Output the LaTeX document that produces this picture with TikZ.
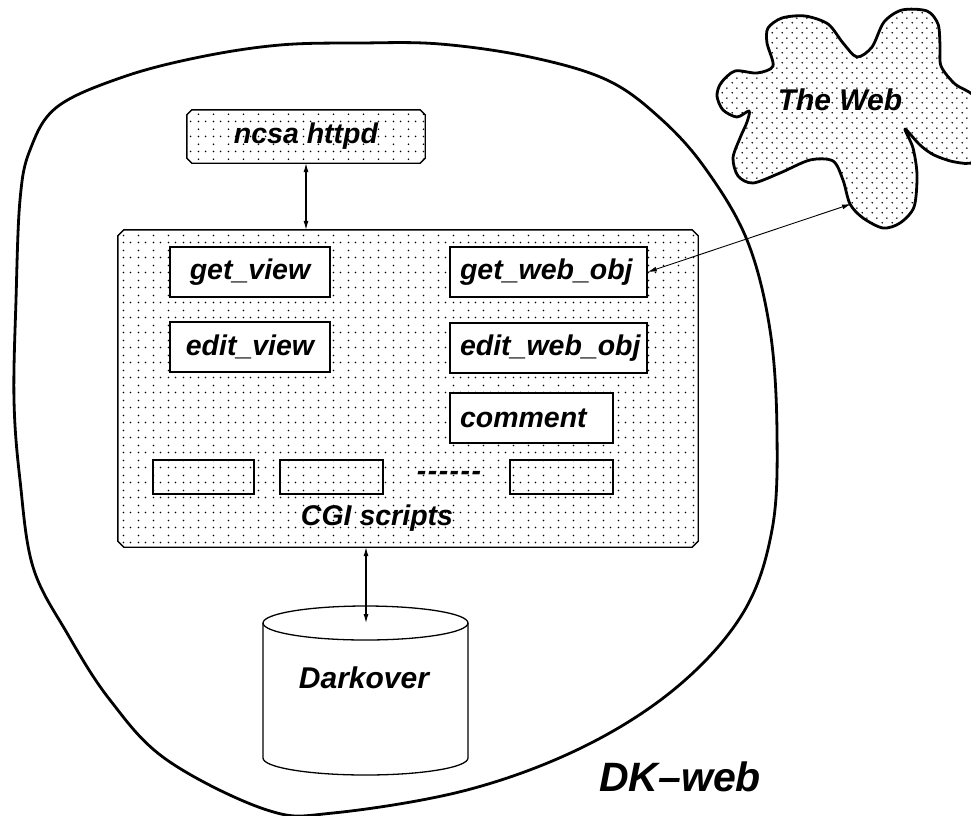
\documentclass[tikz,border=0pt]{standalone}
\usepackage{fontspec}
\setmainfont{Liberation Sans}
\usetikzlibrary{arrows.meta,patterns.meta}

\tikzdeclarepattern{
  name=boxdots,
  type=uncolored,
  bounding box={(0pt,0pt) and (15pt,15pt)},
  tile size={(15pt,15pt)},
  code={
    \pgfpathcircle{\pgfpoint{3.75pt}{3.75pt}}{0.95pt}
    \pgfpathcircle{\pgfpoint{11.25pt}{3.75pt}}{0.95pt}
    \pgfpathcircle{\pgfpoint{3.75pt}{11.25pt}}{0.95pt}
    \pgfusepath{fill}
  }
}
\tikzdeclarepattern{
  name=clouddots,
  type=uncolored,
  bounding box={(0pt,0pt) and (10pt,10pt)},
  tile size={(10pt,10pt)},
  code={
    \pgfpathcircle{\pgfpoint{2.5pt}{2.5pt}}{0.95pt}
    \pgfpathcircle{\pgfpoint{7.5pt}{7.5pt}}{0.95pt}
    \pgfusepath{fill}
  }
}

\begin{document}
\begin{tikzpicture}[x=1pt,y=-1pt,
  lbl/.style={font=\fontsize{28.5}{31}\selectfont\bfseries\itshape},
  outline/.style={line width=2.8pt, line join=round},
  frame/.style={rectangle, inner sep=0pt},
  chamf/.style={draw, line width=1.4pt, pattern=boxdots, pattern color=black, line join=miter},
  script/.style={draw, line width=1.6pt, fill=white, minimum height=50pt, inner sep=0pt, lbl},
  scriptl/.style={script, text width=#1, align=left, inner xsep=10pt},
  empty/.style={draw, line width=1.6pt, minimum height=34pt, inner sep=0pt},
  link/.style={line width=1.1pt, {Latex[length=9pt,width=5pt]}-{Latex[length=9pt,width=5pt]}},
  cyl/.style={line width=1.3pt}
]
\useasboundingbox (0,0) rectangle (971,815);
\clip (0,0) rectangle (971,815);

% DK-web region
\draw[outline] plot[smooth cycle, tension=0.6] coordinates {
 (14,400) (16,300) (20,200) (30,150) (57,107) (123,77) (200,57) (280,45) (360,43) (440,44)
 (530,57) (607,80) (660,118) (705,168) (747,240) (770,330) (777,433) (772,530) (743,613)
 (677,687) (583,747) (467,790) (333,813) (267,810) (167,760) (110,700) (67,633) (33,567) (20,480)};

% The Web cloud
\draw[outline, preaction={fill=white}, pattern=clouddots, pattern color=black]
 plot[smooth cycle, tension=0.5] coordinates {
 (767,43) (768,28) (782,18) (805,16) (828,24) (843,43) (857,57) (872,47) (884,22) (902,10)
 (927,11) (938,24) (940,45) (941,66) (955,84) (975,97) (992,130) (975,161) (955,162) (934,155)
 (920,145) (905,129) (913,148) (917,175) (914,207) (900,223) (883,228) (863,218) (850,204)
 (843,180) (833,161) (810,160) (780,173) (753,183) (738,176) (733,158) (740,138) (747,122)
 (749,111) (737,117) (723,110) (717,96) (721,83) (735,71) (757,73) (773,66)};
\node[lbl, font=\fontsize{30}{33}\selectfont\bfseries\itshape] (web) at (840,100) {The Web};
\coordinate (webtip) at (851,204);

% CGI scripts box
\node[frame, minimum width=580pt, minimum height=317pt] (cgi) at (408,388.5) {};
\draw[chamf] ([xshift=6pt]cgi.north west) -- ([xshift=-6pt]cgi.north east) -- ([yshift=-6pt]cgi.north east)
  -- ([yshift=6pt]cgi.south east) -- ([xshift=-6pt]cgi.south east) -- ([xshift=6pt]cgi.south west)
  -- ([yshift=6pt]cgi.south west) -- ([yshift=-6pt]cgi.north west) -- cycle;
\node[lbl] (cgilabel) at (377,518) {CGI scripts};

% ncsa httpd
\node[frame, minimum width=238pt, minimum height=53pt] (ncsa) at (306,136.5) {};
\draw[chamf] ([xshift=5pt]ncsa.north west) -- ([xshift=-5pt]ncsa.north east) -- ([yshift=-5pt]ncsa.north east)
  -- ([yshift=5pt]ncsa.south east) -- ([xshift=-5pt]ncsa.south east) -- ([xshift=5pt]ncsa.south west)
  -- ([yshift=5pt]ncsa.south west) -- ([yshift=-5pt]ncsa.north west) -- cycle;
\node[lbl] (ncsalabel) at (ncsa.center) {ncsa httpd};

% scripts
\node[script, minimum width=160pt] (gv) at (250,272) {get\_view};
\node[script, minimum width=160pt] (ev) at (250,347) {edit\_view};
\node[scriptl=177pt] (gwo) at (548.5,272) {get\_web\_obj};
\node[scriptl=177pt] (ewo) at (548.5,348) {edit\_web\_obj};
\node[scriptl=143pt] (cm) at (531.5,418) {comment};

\node[empty, minimum width=101pt] (e1) at (203.5,477) {};
\node[empty, minimum width=103pt] (e2) at (331.5,477) {};
\node[empty, minimum width=103pt] (e3) at (561.5,477) {};
\node[lbl] (dots) at (449,476) {-\kern1.5pt-\kern1.5pt-\kern1.5pt-\kern1.5pt-\kern1.5pt-};

% Darkover cylinder
\coordinate (dtop) at (366,623);
\draw[cyl, fill=white] (263,623) -- (263,758) arc[start angle=180, end angle=0, x radius=102.5, y radius=17] -- (468,623);
\draw[cyl] (365.5,623) ellipse [x radius=102.5, y radius=17];
\node[lbl, font=\fontsize{30}{33}\selectfont\bfseries\itshape] (dark) at (364,678) {Darkover};

% connectors
\draw[link] (ncsa.south) -- (ncsa.south |- cgi.north);
\draw[link] (dtop |- cgi.south) -- (dtop);
\draw[link, line width=0.9pt] (webtip) -- (gwo.east);

% DK-web label
\node[lbl, font=\fontsize{41}{44}\selectfont\bfseries\itshape] (dk) at (680,777) {DK--web};
\end{tikzpicture}
\end{document}
